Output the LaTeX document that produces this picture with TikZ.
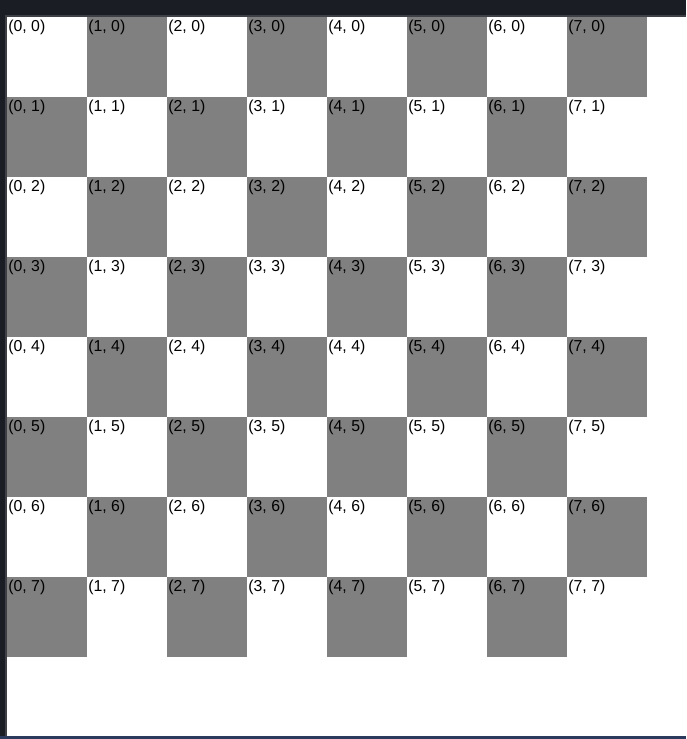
\documentclass[tikz,border=0pt]{standalone}
\usepackage{fontspec}
\setmainfont{Liberation Sans}
\usetikzlibrary{positioning}
\usepackage{xcolor}
\definecolor{BoardGray}{RGB}{128,128,128}
\definecolor{FrameDark}{RGB}{27,29,36}
\definecolor{FrameEdge}{RGB}{62,64,70}
\definecolor{FrameNavy}{RGB}{42,58,92}

\begin{document}
\begin{tikzpicture}[
x=0.02cm,y=-0.02cm,
square/.style={rectangle,draw=none,minimum size=1.6cm,inner sep=0pt,outer sep=0pt},
dark/.style={square,fill=BoardGray},
light/.style={square,fill=white},
coord/.style={anchor=north west,inner sep=0pt,font=\fontsize{9}{9}\selectfont}
]
\useasboundingbox (0,0) rectangle (686,739);
% window frame
\fill[FrameDark] (0,0) rectangle (686,739);
\fill[FrameEdge] (5,15) rectangle (686,736);
\fill[white] (7,17) rectangle (686,736);
\fill[FrameNavy] (0,736) rectangle (686,739);
% board
\foreach \c in {0,...,7}{
  \foreach \r in {0,...,7}{
    \pgfmathtruncatemacro\odd{mod(\c+\r,2)}
    \ifnum\odd=1 \def\kind{dark}\else\def\kind{light}\fi
    \node[\kind] (sq-\c-\r) at (47+80*\c,57+80*\r) {};
    \node[coord] (lb-\c-\r) at ([xshift=0.6pt,yshift=-1.8pt]sq-\c-\r.north west) {(\c, \r)};
  }
}
\end{tikzpicture}
\end{document}
